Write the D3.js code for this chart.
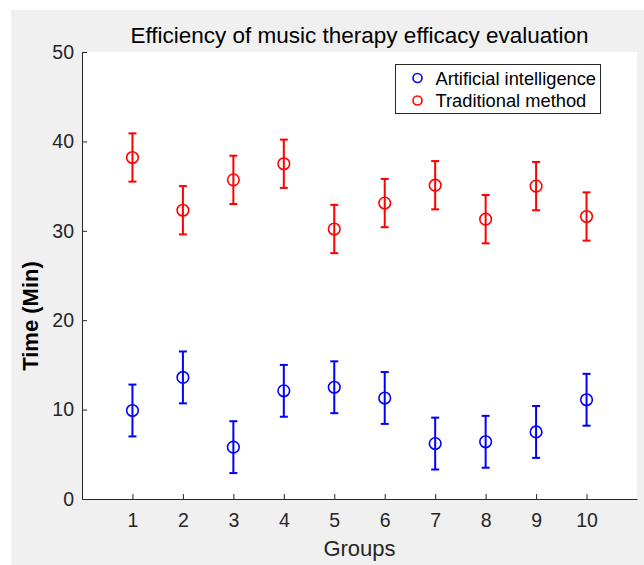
<!DOCTYPE html>
<html>
<head>
<meta charset="utf-8">
<script src="https://cdn.jsdelivr.net/npm/d3@7"></script>
<style>
  body { margin: 0; background: #fff; }
  svg { display: block; font-family: "Liberation Sans", Arial, sans-serif; }
</style>
</head>
<body>
<div id="chart"></div>
<script>
const groups = [1, 2, 3, 4, 5, 6, 7, 8, 9, 10];
const aiMean = [9.9, 13.6, 5.8, 12.1, 12.5, 11.3, 6.2, 6.4, 7.5, 11.1];
const aiErr = [2.9, 2.9, 2.9, 2.9, 2.9, 2.9, 2.9, 2.9, 2.9, 2.9];
const tradMean = [38.2, 32.3, 35.7, 37.5, 30.2, 33.1, 35.1, 31.3, 35.0, 31.6];
const tradErr = [2.7, 2.7, 2.7, 2.7, 2.7, 2.7, 2.7, 2.7, 2.7, 2.7];
const yTicks = [0, 10, 20, 30, 40, 50];
const seriesNames = ["Artificial intelligence", "Traditional method"];
const seriesColors = ["#0000ff", "#ff0000"];

const W = 644, H = 565;
const margin = {top: 52, right: 7, bottom: 66, left: 82};
const width = W - margin.left - margin.right;
const height = H - margin.top - margin.bottom;
const axisColor = "#262626";

const svg = d3.select("#chart").append("svg")
  .attr("width", W).attr("height", H);

// figure background
svg.append("rect").attr("x", 11).attr("y", 10)
  .attr("width", W - 11).attr("height", H - 10).attr("fill", "#f0f0f0");

const g = svg.append("g")
  .attr("transform", "translate(" + margin.left + "," + margin.top + ")");

g.append("rect").attr("width", width).attr("height", height).attr("fill", "#fff");

const x = d3.scaleLinear().domain([0, 11]).range([0, width]);
const y = d3.scaleLinear().domain([0, 50]).range([height, 0]);

// axes (ticks pointing inward, like matlab)
const xAxis = g.append("g")
  .attr("transform", "translate(0," + height + ")")
  .call(d3.axisBottom(x).tickValues(groups).tickSize(-5).tickPadding(14).tickSizeOuter(0));
const yAxis = g.append("g")
  .call(d3.axisLeft(y).tickValues(yTicks).tickSize(-5).tickPadding(8).tickSizeOuter(0));

[xAxis, yAxis].forEach(a => {
  a.select(".domain").attr("stroke", axisColor);
  a.selectAll(".tick line").attr("stroke", axisColor);
  a.selectAll(".tick text").attr("fill", axisColor)
    .style("font-size", "19.5px").style("font-family", "Liberation Sans, Arial, sans-serif");
});

const series = [
  {mean: aiMean, err: aiErr, color: seriesColors[0]},
  {mean: tradMean, err: tradErr, color: seriesColors[1]}
];

series.forEach(s => {
  const sg = g.append("g");
  const pts = groups.map((k, i) => ({k: k, m: s.mean[i], e: s.err[i]}));
  sg.selectAll(".bar").data(pts).enter().append("line")
    .attr("x1", d => x(d.k)).attr("x2", d => x(d.k))
    .attr("y1", d => y(d.m - d.e)).attr("y2", d => y(d.m + d.e))
    .attr("stroke", s.color).attr("stroke-width", 2);
  ["top", "bot"].forEach(side => {
    sg.selectAll(".cap-" + side).data(pts).enter().append("line")
      .attr("x1", d => x(d.k) - 4).attr("x2", d => x(d.k) + 4)
      .attr("y1", d => y(side === "top" ? d.m + d.e : d.m - d.e))
      .attr("y2", d => y(side === "top" ? d.m + d.e : d.m - d.e))
      .attr("stroke", s.color).attr("stroke-width", 2);
  });
  sg.selectAll("circle").data(pts).enter().append("circle")
    .attr("cx", d => x(d.k)).attr("cy", d => y(d.m)).attr("r", 5.8)
    .attr("fill", "none").attr("stroke", s.color).attr("stroke-width", 1.6);
});

// title and axis labels
svg.append("text").attr("x", margin.left + width / 2).attr("y", 43)
  .attr("text-anchor", "middle").attr("fill", "#000")
  .style("font-size", "22.5px").text("Efficiency of music therapy efficacy evaluation");

svg.append("text").attr("x", margin.left + width / 2).attr("y", 556)
  .attr("text-anchor", "middle").attr("fill", axisColor)
  .style("font-size", "22px").text("Groups");

svg.append("text")
  .attr("transform", "translate(38,316) rotate(-90)")
  .attr("text-anchor", "middle").attr("fill", "#000")
  .style("font-size", "22px").style("font-weight", "bold").text("Time (Min)");

// legend
const lg = svg.append("g").attr("transform", "translate(395.5,64.5)");
lg.append("rect").attr("width", 205).attr("height", 49)
  .attr("fill", "#fff").attr("stroke", axisColor).attr("stroke-width", 1);
seriesNames.forEach((name, i) => {
  const yy = 13.5 + i * 22.5;
  lg.append("circle").attr("cx", 22).attr("cy", yy).attr("r", 4.5)
    .attr("fill", "none").attr("stroke", seriesColors[i]).attr("stroke-width", 1.6);
  lg.append("text").attr("x", 40).attr("y", yy + 6.5)
    .attr("fill", "#000").style("font-size", "18.3px").text(name);
});
</script>
</body>
</html>
